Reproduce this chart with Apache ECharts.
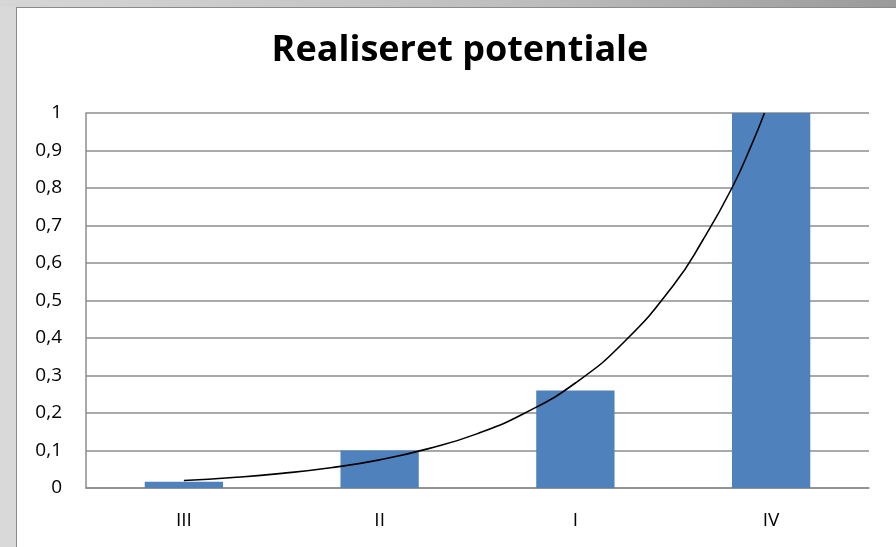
<!DOCTYPE html>
<html>
<head>
<meta charset="utf-8">
<script src="https://cdn.jsdelivr.net/npm/echarts@6/dist/echarts.min.js"></script>
<style>
  html, body {
    margin: 0;
    padding: 0;
    width: 896px;
    height: 547px;
    overflow: hidden;
    background: #d9d9d9;
  }
  .top-band {
    position: absolute;
    left: 0;
    top: 0;
    width: 896px;
    height: 7px;
    background: linear-gradient(90deg, #d6d6d6 0%, #bdbdbd 60%, #9a9a9a 100%);
  }
  .panel {
    position: absolute;
    left: 16px;
    top: 7px;
    width: 880px;
    height: 540px;
    background: #fff;
    border-left: 1px solid #8a8a8a;
    border-top: 1px solid #8a8a8a;
    box-sizing: border-box;
  }
  #chart {
    position: absolute;
    left: 0;
    top: 0;
    width: 896px;
    height: 547px;
  }
</style>
</head>
<body>
<div class="top-band"></div>
<div class="panel"></div>
<div id="chart"></div>
<script>
// data
const categories = ['III', 'II', 'I', 'IV']
const values = [0.017, 0.1, 0.26, 1]
// exponential trend line, sampled along the category positions (1 = III ... 4 = IV)
const trendX = [1, 1.25, 1.5, 1.75, 2, 2.25, 2.5, 2.75, 3, 3.25, 3.5, 3.65, 3.8, 3.9, 3.966]
const trendY = [0.020, 0.028, 0.039, 0.054, 0.075, 0.105, 0.145, 0.202, 0.28, 0.39, 0.54, 0.66, 0.80, 0.915, 1.0]

const chart = echarts.init(document.getElementById('chart'))

const gray = '#8c8c8c'
const font = 'Open Sans, Noto Sans, sans-serif'

chart.setOption({
  animation: false,
  title: {
    text: 'Realiseret potentiale',
    left: 455,
    top: 28,
    textAlign: 'center',
    textStyle: {
      fontFamily: font,
      fontWeight: 'bold',
      fontSize: 36,
      color: '#000'
    }
  },
  grid: {
    left: 86,
    right: 27,
    top: 113,
    bottom: 59
  },
  xAxis: [
    {
      type: 'category',
      data: categories,
      axisLine: { lineStyle: { color: gray, width: 1.5 } },
      axisTick: { show: false },
      axisLabel: {
        color: '#000',
        fontFamily: font,
        fontSize: 19,
        margin: 23
      }
    },
    {
      type: 'value',
      min: 0.5,
      max: 4.5,
      show: false
    }
  ],
  yAxis: {
    type: 'value',
    min: 0,
    max: 1,
    interval: 0.1,
    axisLine: { show: true, lineStyle: { color: gray, width: 1.5 } },
    axisTick: { show: false },
    splitLine: { lineStyle: { color: gray, width: 1.5 } },
    axisLabel: {
      color: '#000',
      fontFamily: font,
      fontSize: 19,
      margin: 24,
      formatter: v => String(+v.toFixed(1)).replace('.', ',')
    }
  },
  series: [
    {
      type: 'bar',
      data: values,
      barWidth: '40%',
      itemStyle: { color: '#4f81bd' }
    },
    {
      type: 'line',
      xAxisIndex: 1,
      data: trendX.map((x, i) => [x, trendY[i]]),
      smooth: true,
      showSymbol: false,
      lineStyle: { color: '#000', width: 1.6 },
      z: 5
    }
  ]
})
</script>
</body>
</html>
